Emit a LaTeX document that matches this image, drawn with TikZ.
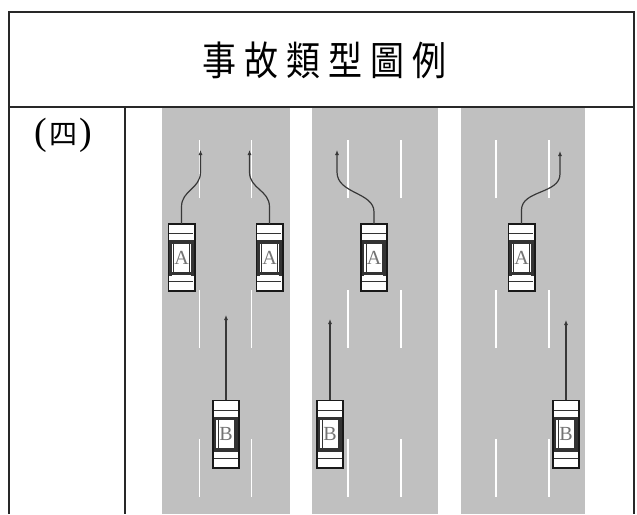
\documentclass[tikz,border=0pt]{standalone}
\usepackage{fontspec}
\setmainfont{Liberation Serif}
\newfontfamily\cjk{Noto Sans CJK TC}
\newfontfamily\cjktitle[FakeStretch=0.85]{Noto Sans CJK TC}
\usetikzlibrary{arrows.meta}
\definecolor{roadgray}{RGB}{192,192,192}
\definecolor{framecol}{RGB}{40,40,40}
\newcommand\cardetails[2]{%
  \draw[cardark, line width=1.3pt] ([shift={(1,10)}]#1.north west) -- ([shift={(25,10)}]#1.north west);
  \fill[cardark] ([shift={(0,16.5)}]#1.north west) rectangle ([shift={(26,20)}]#1.north west);
  \fill[cardark] ([shift={(0,16.5)}]#1.north west) rectangle ([shift={(3.5,52)}]#1.north west);
  \fill[cardark] ([shift={(22.5,16.5)}]#1.north west) rectangle ([shift={(26,52)}]#1.north west);
  \fill[cardark] ([shift={(0,48)}]#1.north west) rectangle ([shift={(26,51.5)}]#1.north west);
  \draw[cardark, line width=0.6pt] ([shift={(5,20)}]#1.north west) -- ([shift={(5,48)}]#1.north west);
  \draw[cardark, line width=0.6pt] ([shift={(21,20)}]#1.north west) -- ([shift={(21,48)}]#1.north west);
  \draw[cardark, line width=1.3pt] ([shift={(1,58)}]#1.north west) -- ([shift={(25,58)}]#1.north west);
  \draw[black!90, line width=1.6pt] (#1.north west) rectangle (#1.south east);
  \node[cartext] (#1l) at (#1.center) {#2};
}
\begin{document}
\begin{tikzpicture}[x=1pt,y=-1pt,
  frame/.style={draw=framecol, line width=1.6pt},
  road/.style={fill=roadgray, draw=none},
  lane/.style={draw=white, line width=1.6pt},
  cardark/.style={black!80},
  car/.style={fill=white, minimum width=26pt, minimum height=67pt, inner sep=0pt},
  cartext/.style={inner sep=0pt, font=\fontsize{20}{20}\selectfont, text=black!55},
  move/.style={draw=black!78, line width=1.2pt, -{Latex[length=5pt,width=4pt]}}
]
\useasboundingbox (0,0) rectangle (637,514);
\fill[white] (0,0) rectangle (637,514);

% roads
\fill[road] (162,108) rectangle (290,514);
\fill[road] (312,108) rectangle (438,514);
\fill[road] (461,108) rectangle (585,514);
\foreach \lx in {199.5,251.5,348,401,496,549}{
  \foreach \ly in {140,290,439}{
    \draw[lane] (\lx,\ly) -- (\lx,\ly+58);
  }
}

% table frame
\draw[frame] (9,514) -- (9,12) -- (634,12) -- (634,514);
\draw[frame] (9,107) -- (634,107);
\draw[frame] (125,107) -- (125,514);

% texts
\node (title) at (324.5,60) {\cjktitle\fontsize{40}{40}\selectfont 事\hspace{8pt}故\hspace{8pt}類\hspace{8pt}型\hspace{8pt}圖\hspace{8pt}例};
\node (num) at (63,135) {{\fontsize{38}{38}\selectfont(}\hspace{2pt}{\cjk\fontsize{28}{28}\selectfont 四}\hspace{2pt}{\fontsize{38}{38}\selectfont)}};

% cars A
\node[car] (A1) at (181.5,257.5) {};
\node[car] (A2) at (269.5,257.5) {};
\node[car] (A3) at (374,257.5) {};
\node[car] (A4) at (521.5,257.5) {};
% cars B
\node[car] (B1) at (226,434) {};
\node[car] (B2) at (330,434) {};
\node[car] (B3) at (566,434) {};
\cardetails{A1}{A}
\cardetails{A2}{A}
\cardetails{A3}{A}
\cardetails{A4}{A}
\cardetails{B1}{B}
\cardetails{B2}{B}
\cardetails{B3}{B}

% arrow tips
\coordinate (A1t) at (200.5,150);
\coordinate (A2t) at (249.5,150);
\coordinate (A3t) at (337,150);
\coordinate (A4t) at (560,151);
\coordinate (B1t) at (226,315);
\coordinate (B2t) at (330,319);
\coordinate (B3t) at (566,320);

% movements
\draw[move] (A1.north) -- (181.5,207) .. controls (181.5,190) and (200.5,189) .. (200.5,172) -- (A1t);
\draw[move] (A2.north) -- (269.5,207) .. controls (269.5,190) and (249.5,189) .. (249.5,172) -- (A2t);
\draw[move] (A3.north) -- (374,212) .. controls (374,192) and (337,194) .. (337,172) -- (A3t);
\draw[move] (A4.north) -- (521.5,210) .. controls (521.5,190) and (560,194) .. (560,174) -- (A4t);
\draw[move] (B1.north) -- (B1t);
\draw[move] (B2.north) -- (B2t);
\draw[move] (B3.north) -- (B3t);
\end{tikzpicture}
\end{document}
